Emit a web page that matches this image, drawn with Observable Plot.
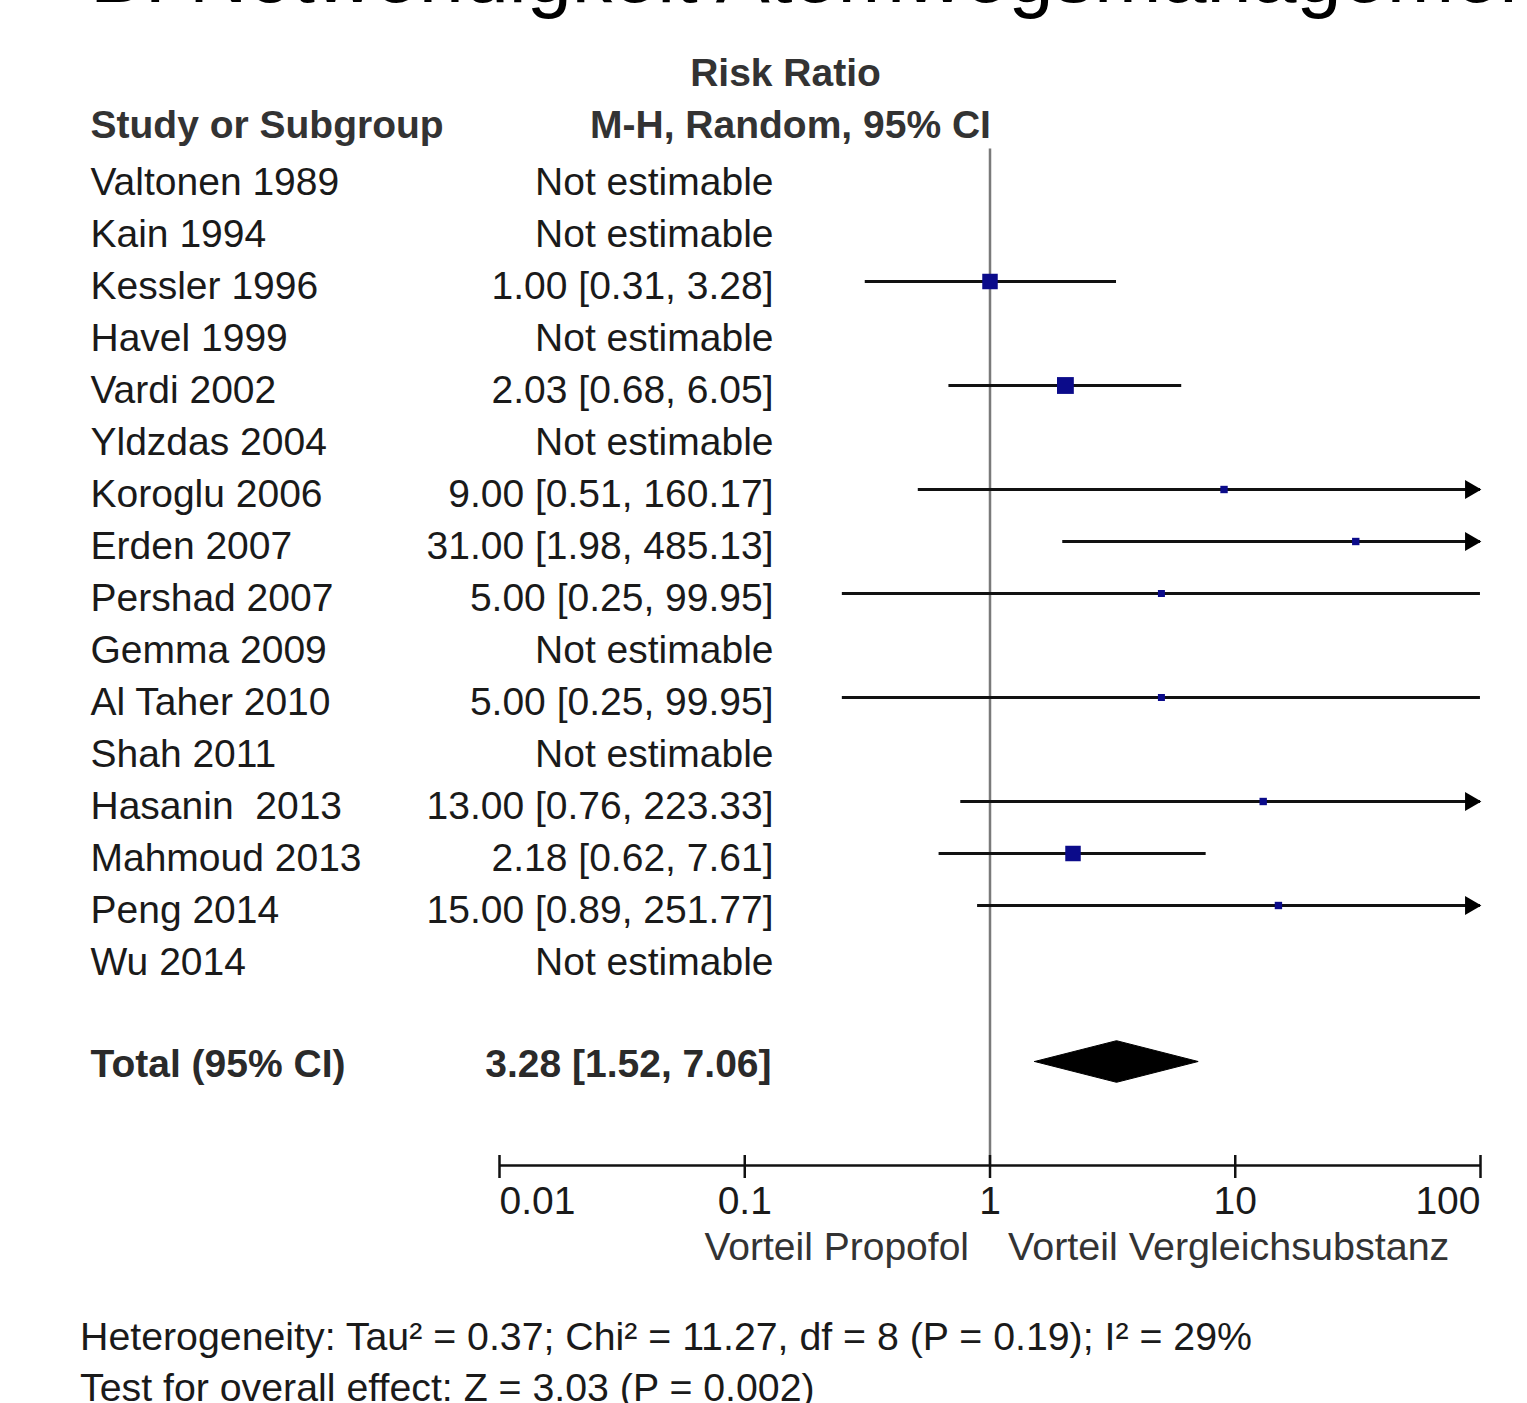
<!DOCTYPE html>
<html>
<head>
<meta charset="utf-8">
<script src="https://cdn.jsdelivr.net/npm/d3@7"></script>
<script src="https://cdn.jsdelivr.net/npm/@observablehq/plot@0.6"></script>
<style>
  html, body { margin: 0; padding: 0; background: #fff; }
  body { width: 1527px; height: 1403px; overflow: hidden; position: relative; font-family: "Liberation Sans", Arial, sans-serif; color: #1a1a1a; }
  #title { position: absolute; left: 90px; top: -66px; font-size: 81px; line-height: 81px; white-space: nowrap; color: #000; }
  #chart svg { display: block; }
  #caption { padding-left: 80px; margin-top: 11px; font-size: 39.3px; line-height: 51px; white-space: nowrap; color: #1a1a1a; }
</style>
</head>
<body>
<div id="title">B: Notwendigkeit Atemwegsmanagement</div>
<div id="chart"></div>
<div id="caption"></div>
<script>
// ---- data ----
const studies = ["Valtonen 1989","Kain 1994","Kessler 1996","Havel 1999","Vardi 2002","Yldzdas 2004","Koroglu 2006","Erden 2007","Pershad 2007","Gemma 2009","Al Taher 2010","Shah 2011","Hasanin  2013","Mahmoud 2013","Peng 2014","Wu 2014"];
const riskRatio = [null,null,1.00,null,2.03,null,9.00,31.00,5.00,null,5.00,null,13.00,2.18,15.00,null];
const ciLow     = [null,null,0.31,null,0.68,null,0.51,1.98,0.25,null,0.25,null,0.76,0.62,0.89,null];
const ciHigh    = [null,null,3.28,null,6.05,null,160.17,485.13,99.95,null,99.95,null,223.33,7.61,251.77,null];
const weight    = [null,null,22,null,26,null,5,5,4.5,null,4.5,null,5,22,5,null];
const total = {label: "Total (95% CI)", rr: 3.28, lo: 1.52, hi: 7.06};
const axisTicks = [0.01, 0.1, 1, 10, 100];
const tickLabels = ["0.01", "0.1", "1", "10", "100"];
const leftLabel = "Vorteil Propofol";
const rightLabel = "Vorteil Vergleichsubstanz";
const captionLines = [
  "Heterogeneity: Tau\u00b2 = 0.37; Chi\u00b2 = 11.27, df = 8 (P = 0.19); I\u00b2 = 29%",
  "Test for overall effect: Z = 3.03 (P = 0.002)"
];

// ---- derived table ----
const rows = studies.map((s, i) => ({
  study: s, i, rr: riskRatio[i], lo: ciLow[i], hi: ciHigh[i], w: weight[i],
  label: riskRatio[i] == null ? "Not estimable"
    : `${riskRatio[i].toFixed(2)} [${ciLow[i].toFixed(2)}, ${ciHigh[i].toFixed(2)}]`
}));
const est = rows.filter(d => d.rr != null);
const totalRow = studies.length + 1;
const axisRow = totalRow + 2;
const ticks = axisTicks.map((v, k) => ({v, label: tickLabels[k], k}));
const dh = 0.4;
const diamond = [
  {x: total.lo, y: totalRow}, {x: total.rr, y: totalRow - dh},
  {x: total.hi, y: totalRow}, {x: total.rr, y: totalRow + dh}, {x: total.lo, y: totalRow}
];

const ink = "#1a1a1a";
const fs = 39;

const chart = Plot.plot({
  width: 1527,
  height: 1300,
  margin: 0,
  style: {fontFamily: '"Liberation Sans", Arial, sans-serif', background: "#fff"},
  x: {type: "log", domain: [0.01, 100], range: [499, 1480], axis: null},
  y: {domain: [-2, axisRow], range: [73, 1165], axis: null},
  r: {domain: [0, 26], range: [0, 9.5]},
  marks: [
    // line of no effect
    Plot.ruleX([1], {y1: -0.55, y2: axisRow, stroke: "#7a7a7a", strokeWidth: 2.5}),
    // confidence intervals
    Plot.ruleY(est, {y: "i", x1: d => Math.max(d.lo, 0.01), x2: d => Math.min(d.hi, 100), stroke: "#111", strokeWidth: 3}),
    // arrowheads for clipped intervals
    Plot.dot(est.filter(d => d.hi > 100), {x: d => Math.min(d.hi, 100), y: "i", symbol: "triangle", rotate: 90, r: 7, fill: "#000", dx: -10}),
    // point estimates
    Plot.dot(est, {x: "rr", y: "i", r: "w", symbol: "square", fill: "#0b0b8a"}),
    // pooled diamond
    Plot.line(diamond, {x: "x", y: "y", fill: "#000", stroke: "#000", strokeWidth: 1}),
    // study names
    Plot.text(rows, {y: "i", text: "study", frameAnchor: "left", dx: 90, dy: 5, textAnchor: "start", fontSize: fs, fill: ink}),
    // estimates
    Plot.text(rows, {y: "i", text: "label", frameAnchor: "left", dx: 773, dy: 5, textAnchor: "end", fontSize: fs, fill: ink}),
    // total
    Plot.text([total], {y: () => totalRow, text: "label", frameAnchor: "left", dx: 90, dy: 3, textAnchor: "start", fontSize: fs, fontWeight: "bold", fill: "#2a2a2a"}),
    Plot.text([total], {y: () => totalRow, text: d => `${d.rr.toFixed(2)} [${d.lo.toFixed(2)}, ${d.hi.toFixed(2)}]`, frameAnchor: "left", dx: 771, dy: 3, textAnchor: "end", fontSize: fs, fontWeight: "bold", fill: "#2a2a2a"}),
    // headers
    Plot.text(["Study or Subgroup"], {y: () => -1, text: d => d, frameAnchor: "left", dx: 90, textAnchor: "start", fontSize: fs, fontWeight: "bold", fill: "#333"}),
    Plot.text(["Risk Ratio"], {y: () => -2, text: d => d, frameAnchor: "left", dx: 785, textAnchor: "middle", fontSize: fs, fontWeight: "bold", fill: "#333"}),
    Plot.text(["M-H, Random, 95% CI"], {y: () => -1, text: d => d, frameAnchor: "left", dx: 790, textAnchor: "middle", fontSize: fs, fontWeight: "bold", fill: "#333"}),
    // axis
    Plot.ruleY([axisRow], {x1: 0.01, x2: 100, stroke: "#111", strokeWidth: 2.5}),
    Plot.ruleX(ticks, {x: "v", y1: () => axisRow, y2: () => axisRow, insetTop: -10, insetBottom: -13, stroke: "#111", strokeWidth: 2.5}),
    Plot.text(ticks.filter(d => d.k === 0), {x: "v", y: () => axisRow, text: "label", textAnchor: "start", dy: 36, fontSize: fs, fill: ink}),
    Plot.text(ticks.filter(d => d.k > 0 && d.k < ticks.length - 1), {x: "v", y: () => axisRow, text: "label", textAnchor: "middle", dy: 36, fontSize: fs, fill: ink}),
    Plot.text(ticks.filter(d => d.k === ticks.length - 1), {x: "v", y: () => axisRow, text: "label", textAnchor: "end", dy: 36, fontSize: fs, fill: ink}),
    Plot.text([leftLabel], {x: () => 1, y: () => axisRow, text: d => d, textAnchor: "end", dx: -21, dy: 82, fontSize: fs, fill: "#333"}),
    Plot.text([rightLabel], {x: () => 1, y: () => axisRow, text: d => d, textAnchor: "start", dx: 18, dy: 82, fontSize: 39.5, fill: "#333"})
  ]
});
document.getElementById("chart").appendChild(chart);
document.getElementById("caption").innerHTML = captionLines.map(t => `<div>${t}</div>`).join("");
</script>
</body>
</html>
